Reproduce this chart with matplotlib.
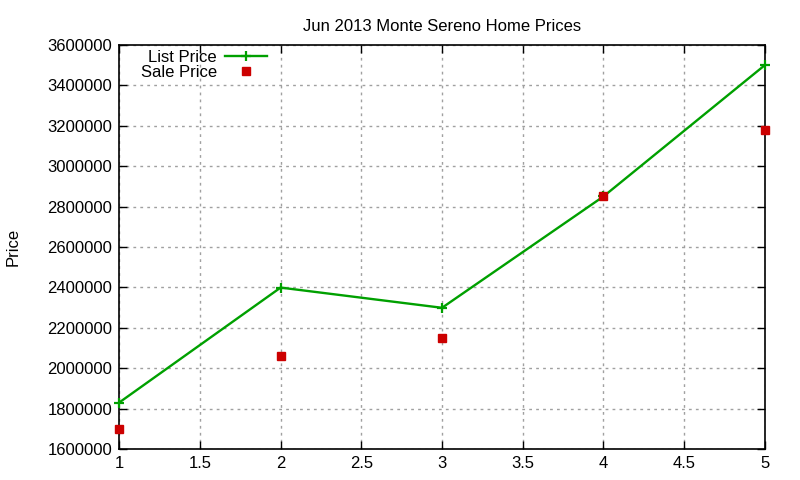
import matplotlib.pyplot as plt
import matplotlib.ticker as mticker

plt.rcParams['font.family'] = ['Liberation Sans', 'DejaVu Sans']

months = [1, 2, 3, 4, 5]
list_price = [1830000, 2399000, 2299000, 2850000, 3500000]
sale_price = [1700000, 2060000, 2150000, 2852000, 3177000]

fig = plt.figure(figsize=(8, 4.8), dpi=100)
ax = fig.add_axes([0.149, 0.0646, 0.807, 0.8417])

ax.plot(months, list_price, color='#00a000', linewidth=1.7, marker='+',
        markersize=7, markeredgewidth=1.6, label='List Price', clip_on=False, zorder=3)
ax.plot(months, sale_price, linestyle='none', color='#cc0000', marker='s',
        markersize=5.8, label='Sale Price', clip_on=False, zorder=4)

ax.set_xlim(1, 5)
ax.set_ylim(1600000, 3600000)
ax.xaxis.set_major_locator(mticker.MultipleLocator(0.5))
ax.yaxis.set_major_locator(mticker.MultipleLocator(200000))
ax.xaxis.set_major_formatter(mticker.FuncFormatter(lambda v, p: '%g' % v))
ax.yaxis.set_major_formatter(mticker.FuncFormatter(lambda v, p: '%d' % v))

ax.grid(True, color='#a0a0a0', linestyle=(0, (2, 3)), linewidth=1)
ax.tick_params(direction='in', top=True, right=True, length=6, width=1,
               labelsize=12, colors='black', pad=5)
for s in ax.spines.values():
    s.set_linewidth(1.2)

ax.set_title('Jun 2013 Monte Sereno Home Prices', fontsize=12, pad=10)
ax.set_ylabel('Price', fontsize=12, labelpad=19)

leg = ax.legend(loc='upper right', bbox_to_anchor=(0.234, 0.995), frameon=False,
                markerfirst=False, fontsize=12, handlelength=2.5,
                borderaxespad=0, borderpad=0.2, labelspacing=0.0, handletextpad=0.5)
for t in leg.get_texts():
    t.set_ha('right')
leg._legend_box.align = 'right'

fig.savefig('out.png', dpi=100)
